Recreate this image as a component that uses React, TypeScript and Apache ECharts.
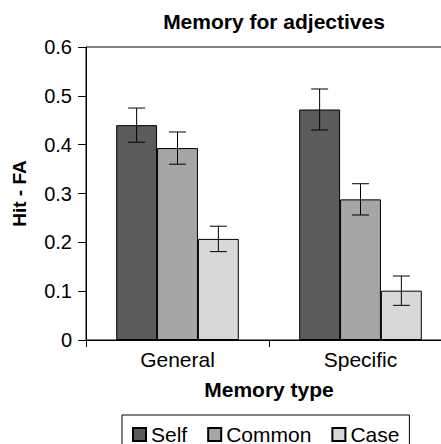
import React, { useEffect, useRef } from "react";
import * as echarts from "echarts";

const categories = ["General", "Specific"];
const seriesNames = ["Self", "Common", "Case"];
const selfValues = [0.44, 0.472];
const commonValues = [0.393, 0.288];
const caseValues = [0.207, 0.101];
const selfErrors = [0.035, 0.042];
const commonErrors = [0.033, 0.032];
const caseErrors = [0.026, 0.030];
const colors = ["#5b5b5b", "#a6a6a6", "#d8d8d8"];

const FONT = "'Liberation Sans', Arial, Helvetica, sans-serif";
const CAT_GAP = 0.33;

export default function App() {
  const ref = useRef<HTMLDivElement>(null);
  useEffect(() => {
    if (!ref.current) return;
    const chart = echarts.init(ref.current, null, { renderer: "svg" });
    const values = [selfValues, commonValues, caseValues];
    const errors = [selfErrors, commonErrors, caseErrors];

    const barSeries = seriesNames.map((name, i) => ({
      name,
      type: "bar",
      data: values[i],
      barGap: "0%",
      barCategoryGap: CAT_GAP * 100 + "%",
      itemStyle: { color: colors[i], borderColor: "#000", borderWidth: 1 },
    }));

    const errSeries = seriesNames.map((name, i) => ({
      name: name + " error",
      type: "custom",
      data: values[i].map((v, j) => [j, v, errors[i][j]]),
      z: 10,
      renderItem: (params: any, api: any) => {
        const cat = api.value(0);
        const val = api.value(1);
        const err = api.value(2);
        const center = api.coord([cat, val]);
        const band = api.size([1, 0])[0];
        const bw = (band * (1 - CAT_GAP)) / 3;
        const x = center[0] + (i - 1) * bw;
        const top = api.coord([cat, val + err])[1];
        const bot = api.coord([cat, val - err])[1];
        const hw = 8.5;
        const st = { stroke: "#000", lineWidth: 1 };
        return {
          type: "group",
          children: [
            { type: "line", shape: { x1: x, y1: top, x2: x, y2: bot }, style: st },
            { type: "line", shape: { x1: x - hw, y1: top, x2: x + hw, y2: top }, style: st },
            { type: "line", shape: { x1: x - hw, y1: bot, x2: x + hw, y2: bot }, style: st },
          ],
        };
      },
    }));

    chart.setOption({
      animation: false,
      textStyle: { fontFamily: FONT, color: "#000" },
      title: {
        text: "Memory for adjectives",
        left: 269,
        top: 6,
        textAlign: "center",
        textStyle: { fontFamily: FONT, fontSize: 21, fontWeight: "bold", color: "#000" },
      },
      grid: { left: 86, top: 47, width: 366, height: 293, show: true, borderColor: "#000", borderWidth: 1 },
      legend: {
        data: seriesNames,
        left: 122,
        top: 415,
        orient: "horizontal",
        icon: "rect",
        itemWidth: 13,
        itemHeight: 13,
        itemGap: 20,
        padding: [9, 10, 10, 10],
        borderColor: "#000",
        borderWidth: 1,
        textStyle: { fontFamily: FONT, fontSize: 21, color: "#000" },
      },
      xAxis: {
        type: "category",
        data: categories,
        axisLine: { lineStyle: { color: "#000", width: 1 } },
        axisTick: { show: true, length: 7, lineStyle: { color: "#000" } },
        axisLabel: { fontFamily: FONT, fontSize: 21, color: "#000", margin: 9 },
        name: "Memory type",
        nameLocation: "middle",
        nameGap: 39,
        nameTextStyle: { fontFamily: FONT, fontSize: 21, fontWeight: "bold", color: "#000" },
      },
      yAxis: {
        type: "value",
        min: 0,
        max: 0.6,
        interval: 0.1,
        splitLine: { show: false },
        axisLine: { show: true, lineStyle: { color: "#000", width: 1 } },
        axisTick: { show: true, length: 8, lineStyle: { color: "#000" } },
        axisLabel: { fontFamily: FONT, fontSize: 20, color: "#000", margin: 14 },
        name: "Hit - FA",
        nameLocation: "middle",
        nameGap: 57,
        nameTextStyle: { fontFamily: FONT, fontSize: 19, fontWeight: "bold", color: "#000" },
      },
      series: [...barSeries, ...errSeries],
    });
    return () => chart.dispose();
  }, []);
  return (
    <div style={{ width: 441, height: 444, position: "absolute", left: 0, top: 0, overflow: "hidden" }}>
      <div ref={ref} style={{ width: 470, height: 444 }} />
    </div>
  );
}
